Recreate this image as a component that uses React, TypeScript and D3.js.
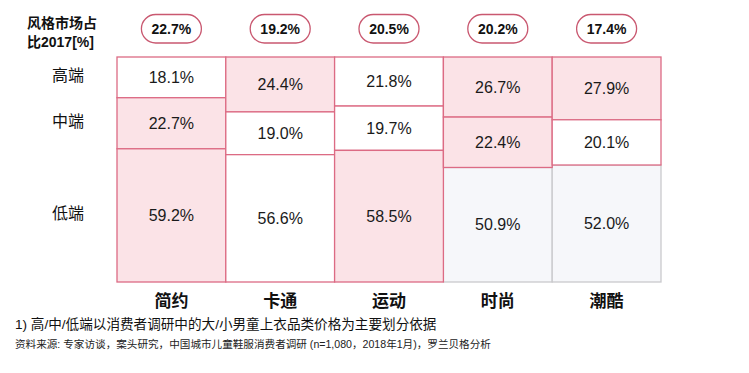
import React from "react";
import * as d3 from "d3";

const categories = ["简约", "卡通", "运动", "时尚", "潮酷"];
const marketShare = [22.7, 19.2, 20.5, 20.2, 17.4];
const highEnd = [18.1, 24.4, 21.8, 26.7, 27.9];
const midEnd = [22.7, 19.0, 19.7, 22.4, 20.1];
const lowEnd = [59.2, 56.6, 58.5, 50.9, 52.0];
const segmentNames = ["高端", "中端", "低端"];
// fill style per cell: p = pink, w = white, g = gray
const highStyle = ["w", "p", "w", "p", "p"];
const midStyle = ["p", "w", "w", "p", "w"];
const lowStyle = ["p", "w", "p", "g", "g"];

const W = 749;
const H = 373;
const FONT = "Arial, 'Liberation Sans', 'Noto Sans CJK SC', sans-serif";
const PINK = "#fbe3e7";
const PINK_STROKE = "#dc6b84";
const GRAY = "#f6f7fa";
const GRAY_STROKE = "#c9c9cc";
const PILL_STROKE = "#c95870";

export default function App() {
  const x = d3.scaleBand<string>().domain(categories).range([117, 661]).padding(0);
  const y = d3.scaleLinear().domain([0, 100]).range([57, 282]);

  const series = [highEnd, midEnd, lowEnd];
  const styles = [highStyle, midStyle, lowStyle];

  const cells: any[] = [];
  categories.forEach((c, i) => {
    let acc = 0;
    series.forEach((s, k) => {
      const v = s[i];
      cells.push({ c, i, k, y0: acc, y1: acc + v, v, st: styles[k][i] });
      acc += v;
    });
  });

  const fillOf = (st: string) => (st === "p" ? PINK : st === "g" ? GRAY : "#ffffff");
  const strokeOf = (st: string) => (st === "g" ? GRAY_STROKE : PINK_STROKE);

  const ordered = [...cells].sort((a, b) => (a.st === "g" ? -1 : 0) - (b.st === "g" ? -1 : 0));

  return (
    <svg width={W} height={H} style={{ display: "block", position: "absolute", left: 0, top: 0 }} fontFamily={FONT}>
      <rect width={W} height={H} fill="#fff" />
      <text x={27} y={28} fontSize={14} fontWeight="bold" fill="#111">风格市场占</text>
      <text x={27} y={47} fontSize={14} fontWeight="bold" fill="#111">比2017[%]</text>

      {categories.map((c, i) => {
        const cx = (x(c) as number) + x.bandwidth() / 2;
        return (
          <g key={"pill" + c}>
            <rect x={cx - 30} y={14.5} width={60} height={28.5} rx={14.25} ry={14.25} fill="#fff" stroke={PILL_STROKE} strokeWidth={1.3} />
            <text x={cx} y={29} dy="0.36em" textAnchor="middle" fontSize={14} fontWeight="bold" fill="#111">
              {marketShare[i].toFixed(1)}%
            </text>
          </g>
        );
      })}

      {ordered.map((d) => {
        const x0 = x(d.c) as number;
        return (
          <rect key={d.c + d.k} x={x0} y={y(d.y0)} width={x.bandwidth()} height={y(d.y1) - y(d.y0)}
            fill={fillOf(d.st)} stroke={strokeOf(d.st)} strokeWidth={1.3} />
        );
      })}

      {cells.map((d) => {
        const cx = (x(d.c) as number) + x.bandwidth() / 2;
        const cy = (y(d.y0) + y(d.y1)) / 2;
        return (
          <text key={"t" + d.c + d.k} x={cx} y={cy} dy="0.36em" textAnchor="middle" fontSize={16} fill="#1a1a1a">
            {d.v.toFixed(1)}%
          </text>
        );
      })}

      {segmentNames.map((n, k) => {
        const cell = cells[k];
        const cy = (y(cell.y0) + y(cell.y1)) / 2;
        return (
          <text key={n} x={68} y={cy - 2} dy="0.36em" textAnchor="middle" fontSize={16} fill="#111">{n}</text>
        );
      })}

      {categories.map((c) => (
        <text key={"cat" + c} x={(x(c) as number) + x.bandwidth() / 2} y={301} dy="0.36em" textAnchor="middle"
          fontSize={17} fontWeight="bold" fill="#111">{c}</text>
      ))}

      <text x={15} y={329} fontSize={13.6} fill="#111">1) 高/中/低端以消费者调研中的大/小男童上衣品类价格为主要划分依据</text>
      <text x={15} y={348} fontSize={10.6} fill="#222">资料来源: 专家访谈，案头研究，中国城市儿童鞋服消费者调研 (n=1,080，2018年1月)，罗兰贝格分析</text>
    </svg>
  );
}
